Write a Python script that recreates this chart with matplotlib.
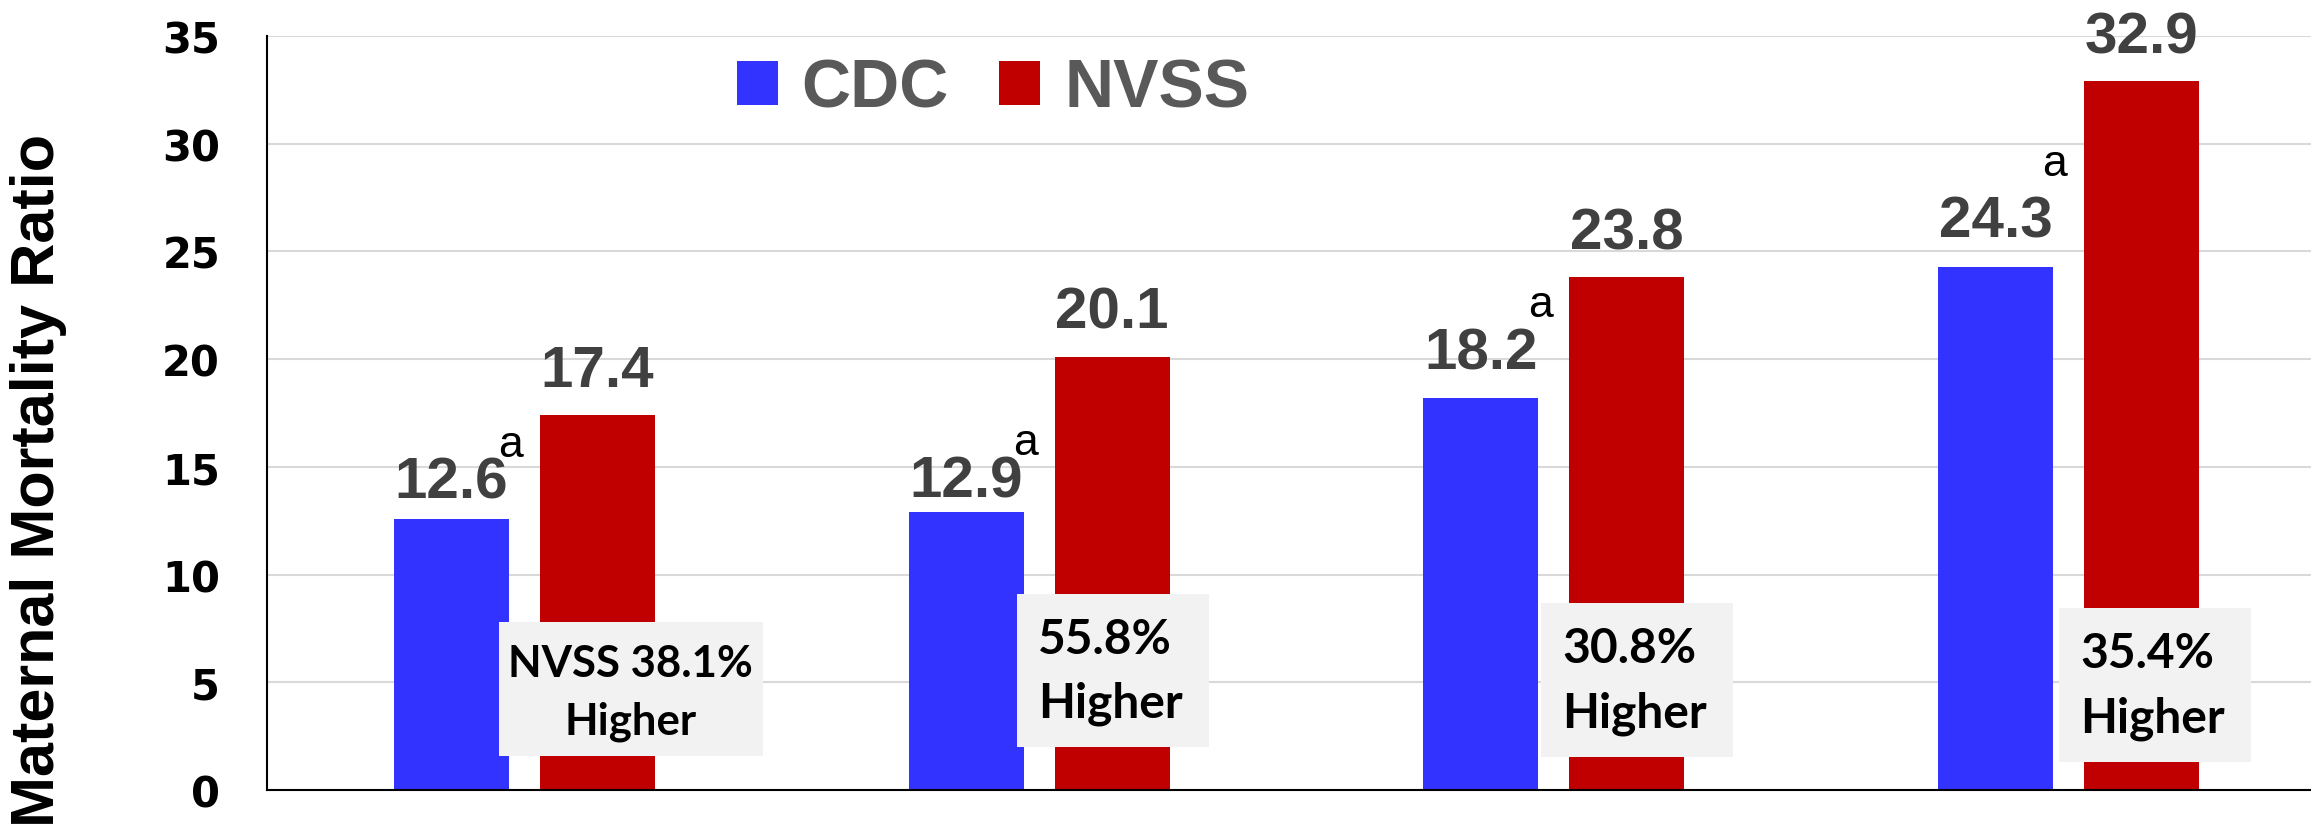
import matplotlib
matplotlib.use("Agg")
import matplotlib.pyplot as plt
from matplotlib.patches import Rectangle, Patch
import numpy as np

# ---------------- data ----------------
series_names = ["CDC", "NVSS"]
groups = ["G1", "G2", "G3", "G4"]          # no category labels shown in the chart
cdc_values = [12.6, 12.9, 18.2, 24.3]
nvss_values = [17.4, 20.1, 23.8, 32.9]
diff_line1 = ["NVSS 38.1%", "55.8%", "30.8%", "35.4%"]
diff_line2 = ["Higher", "Higher", "Higher", "Higher"]
cdc_note = "a"
y_ticks = [0, 5, 10, 15, 20, 25, 30, 35]
y_label = "Maternal Mortality Ratio"

# ---------------- style ----------------
W, H, DPI = 2311, 829, 100
PT = 72.0 / DPI                     # points per pixel
BLUE, RED = "#3333FF", "#C00000"
LABEL_GRAY, LEGEND_GRAY = "#404040", "#595959"
BOX_COLOR = "#F2F2F2"

fig = plt.figure(figsize=(W / DPI, H / DPI), dpi=DPI)
ax = fig.add_axes([267 / W, 1 - 791 / H, (2326 - 267) / W, (791 - 37) / H])

x = np.arange(len(groups))
bar_w = 0.2235
off = 0.142
ax.bar(x - off, cdc_values, bar_w, color=BLUE, zorder=2, label=series_names[0])
ax.bar(x + off, nvss_values, bar_w, color=RED, zorder=2, label=series_names[1])

ax.set_xlim(-0.5, len(groups) - 0.5)
ax.set_ylim(0, 35)
ax.set_yticks(y_ticks)
ax.set_xticks([])
ax.tick_params(axis="y", length=0, pad=47 * PT, labelsize=30)
for t in ax.get_yticklabels():
    t.set_fontfamily("DejaVu Sans")
    t.set_fontweight("bold")
    t.set_color("black")

ax.set_axisbelow(True)
ax.yaxis.grid(True, color="#D9D9D9", linewidth=1.5)
for s in ["top", "right"]:
    ax.spines[s].set_visible(False)
for s in ["left", "bottom"]:
    ax.spines[s].set_color("black")
    ax.spines[s].set_linewidth(1.5)

ax.set_ylabel(y_label, fontsize=44, fontweight="bold", family="Liberation Sans", color="black")
ax.yaxis.set_label_coords(-0.097, 0.412)

# value labels
blue_gap = [21, 16, 29, 30]      # px between bar top and label baseline
red_gap = 29
sup_raise = [0, 0, 11, 20]       # px between label cap top and superscript baseline
cap_px = 42
for i, v in enumerate(cdc_values):
    ax.annotate(f"{v:.1f}", xy=(x[i] - off, v), xytext=(0, blue_gap[i] * PT),
                textcoords="offset points", ha="center", va="baseline",
                fontsize=42, fontweight="bold", family="Liberation Sans", color=LABEL_GRAY)
    ax.annotate(cdc_note, xy=(x[i] - off, v),
                xytext=(47 * PT, (blue_gap[i] + cap_px + sup_raise[i]) * PT),
                textcoords="offset points", ha="left", va="baseline",
                fontsize=32, family="Liberation Sans", color="black")
for i, v in enumerate(nvss_values):
    ax.annotate(f"{v:.1f}", xy=(x[i] + off, v), xytext=(0, red_gap * PT),
                textcoords="offset points", ha="center", va="baseline",
                fontsize=42, fontweight="bold", family="Liberation Sans", color=LABEL_GRAY)

# difference boxes (layout: x offset from group centre, width, bottom, top in data units)
box_layout = [(-0.050, 0.513, 1.57, 7.82),
              (-0.043, 0.373, 1.99, 9.12),
              (-0.025, 0.373, 1.53, 8.66),
              (-0.018, 0.373, 1.30, 8.43)]
ppu_y = 754 / 35.0
for i, (bx, bw, b0, b1) in enumerate(box_layout):
    left = x[i] + bx
    ax.add_patch(Rectangle((left, b0), bw, b1 - b0, facecolor=BOX_COLOR,
                           edgecolor="none", zorder=3))
    if i == 0:
        tx, ha = left + bw / 2, "center"
        d1, d2, fs = 54, 112, 31.5
    else:
        tx, ha = left + 21 / 514.6, "left"
        d1, d2, fs = 59, 123, 34.5
    ax.text(tx, b1 - d1 / ppu_y, diff_line1[i], ha=ha, va="baseline", fontsize=fs,
            fontweight="bold", family="Lato", color="black", zorder=4)
    ax.text(tx, b1 - d2 / ppu_y, diff_line2[i], ha=ha, va="baseline", fontsize=fs,
            fontweight="bold", family="Lato", color="black", zorder=4)

# legend
handles = [Patch(facecolor=BLUE, edgecolor="none"), Patch(facecolor=RED, edgecolor="none")]
leg = ax.legend(handles, series_names, ncol=2, loc="center left",
                bbox_to_anchor=(737 / W, 1 - 90 / H), bbox_transform=fig.transFigure,
                frameon=False, borderpad=0, borderaxespad=0,
                handlelength=0.6, handleheight=0.62, handletextpad=0.35,
                columnspacing=0.74,
                prop={"family": "Liberation Sans", "weight": "bold", "size": 49})
for t in leg.get_texts():
    t.set_color(LEGEND_GRAY)

fig.savefig("out.png", dpi=DPI)
